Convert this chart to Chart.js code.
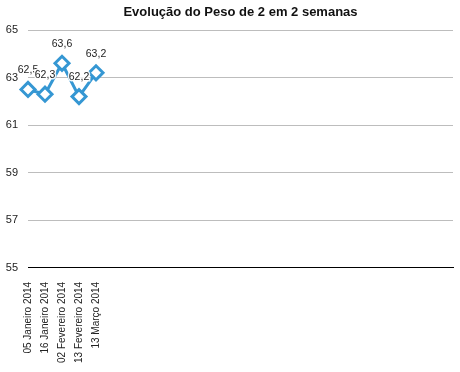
<!DOCTYPE html>
<html lang="pt-BR">
<head>
  <meta charset="UTF-8">
  <title>Evolução do Peso</title>
  <script src="https://cdn.jsdelivr.net/npm/chart.js"></script>
  <style>
    html, body { margin: 0; padding: 0; background: #fff; }
    #grafico-box { width: 460px; height: 372px; }
  </style>
</head>
<body>
  <div id="grafico-box"><canvas id="graficoPeso"></canvas></div>
  <script>
    const titulo = 'Evolução do Peso de 2 em 2 semanas';
    const datas = ['05 Janeiro 2014', '16 Janeiro 2014', '02 Fevereiro 2014', '13 Fevereiro 2014', '13 Março 2014'];
    const pesos = [62.5, 62.3, 63.6, 62.2, 63.2];
    const totalCategorias = 26;
    const tickY = [55, 57, 59, 61, 63, 65];

    const rotulos = datas.slice();
    while (rotulos.length < totalCategorias) rotulos.push('');

    const azul = '#3597d3';
    const fonte = '"Liberation Sans", Arial, sans-serif';

    // título centrado sobre a área do gráfico + rótulos de valor
    const extras = {
      id: 'extras',
      afterDatasetsDraw(chart) {
        const ctx = chart.ctx;
        const area = chart.chartArea;
        ctx.save();
        ctx.font = 'bold 13px ' + fonte;
        ctx.textAlign = 'center';
        ctx.textBaseline = 'middle';
        ctx.fillStyle = '#111';
        ctx.fillText(titulo, (area.left + area.right) / 2, 12);

        const meta = chart.getDatasetMeta(0);
        ctx.font = '10.5px ' + fonte;
        meta.data.forEach((p, i) => {
          const txt = pesos[i].toFixed(1).replace('.', ',');
          ctx.lineWidth = 3;
          ctx.strokeStyle = 'rgba(255,255,255,0.9)';
          ctx.strokeText(txt, p.x, p.y - 19);
          ctx.fillStyle = '#222';
          ctx.fillText(txt, p.x, p.y - 19);
        });
        ctx.restore();
      }
    };

    new Chart(document.getElementById('graficoPeso'), {
      type: 'line',
      data: {
        labels: rotulos,
        datasets: [{
          data: pesos,
          borderColor: azul,
          borderWidth: 3,
          pointStyle: 'rectRot',
          pointRadius: 7,
          pointBorderWidth: 3,
          pointBackgroundColor: '#fff',
          pointBorderColor: azul,
          tension: 0,
          clip: false
        }]
      },
      options: {
        responsive: true,
        maintainAspectRatio: false,
        animation: false,
        layout: { autoPadding: false, padding: { left: 0, right: 7, top: 30, bottom: 3 } },
        plugins: {
          legend: { display: false },
          tooltip: { enabled: false },
          title: { display: false }
        },
        scales: {
          x: {
            offset: false,
            grid: { display: false },
            border: { color: '#000', width: 1 },
            afterFit: s => { s.paddingLeft = 0; s.paddingRight = 0; },
            ticks: {
              autoSkip: false,
              maxRotation: 90,
              minRotation: 90,
              color: '#222',
              padding: 6,
              font: { family: fonte, size: 10 }
            }
          },
          y: {
            min: 55,
            max: 65,
            afterBuildTicks: scale => { scale.ticks = tickY.map(v => ({ value: v })); },
            afterFit: s => { s.width = 28; },
            border: { display: false },
            grid: { color: '#bdbdbd', drawTicks: false },
            ticks: {
              color: '#222',
              padding: 10,
              font: { family: fonte, size: 11 }
            }
          }
        }
      },
      plugins: [extras]
    });
  </script>
</body>
</html>
